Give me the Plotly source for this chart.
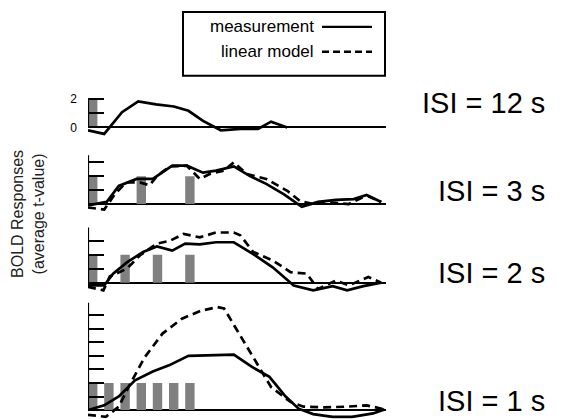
import plotly.graph_objects as go

# ---------------- data ----------------
# ISI = 12 s
t12_meas = [0, 1.0, 2.1, 3.1, 4.2, 5.3, 6.2, 7.1, 8.2, 9.4, 10.5, 11.3, 12.3]
y12_meas = [-0.2, -0.45, 1.05, 1.8, 1.6, 1.45, 1.15, 0.45, -0.2, -0.1, -0.1, 0.4, 0.0]
onsets12 = [0]

# ISI = 3 s
t3_meas = [0, 1.15, 1.9, 3.0, 4.0, 5.2, 6.1, 7.1, 7.9, 9.0, 10.0, 11.0, 12.1, 13.2, 14.2, 15.3, 16.4, 17.2, 18.1]
y3_meas = [-0.1, 0.15, 1.3, 1.8, 1.8, 2.75, 2.75, 2.25, 2.4, 2.7, 2.0, 1.45, 0.7, -0.2, 0.15, 0.3, 0.35, 0.65, 0.15]
t3_model = [0, 1.0, 1.65, 2.35, 3.2, 3.8, 4.25, 5.05, 6.1, 6.9, 7.5, 8.4, 9.0, 9.8, 11.0, 12.3, 13.1, 13.9, 15.1, 16.1, 16.9, 17.3, 18.1]
y3_model = [-0.25, -0.4, 0.7, 1.55, 1.55, 1.35, 2.0, 2.7, 2.75, 1.8, 2.15, 2.4, 3.0, 2.15, 1.8, 0.95, 0.2, 0.0, 0.1, 0.0, 0.45, 0.55, 0.15]
onsets3 = [0, 3, 6]

# ISI = 2 s
t2_meas = [0, 1.0, 1.55, 2.4, 3.4, 4.25, 5.2, 6.0, 6.9, 7.9, 9.0, 10.2, 11.4, 12.7, 13.9, 15.1, 16.0, 17.0, 18.1]
y2_meas = [-0.2, -0.2, 0.65, 1.45, 2.2, 2.6, 2.3, 2.8, 2.75, 2.9, 2.9, 2.05, 1.1, -0.2, -0.55, -0.25, -0.55, -0.25, 0.0]
t2_model = [0, 0.95, 1.35, 2.4, 3.2, 4.25, 5.05, 5.9, 6.9, 7.9, 9.0, 9.4, 10.2, 11.4, 12.5, 13.5, 14.2, 15.3, 16.1, 17.3, 18.1]
y2_model = [-0.3, -0.55, 0.45, 1.0, 1.95, 2.8, 3.0, 3.5, 3.25, 3.6, 3.6, 3.4, 2.2, 1.6, 0.75, 0.65, -0.45, 0.15, -0.2, 0.4, 0.0]
onsets2 = [0, 2, 4, 6]

# ISI = 1 s
t1_meas = [0, 1.0, 1.9, 2.9, 4.0, 5.0, 6.2, 8.0, 9.0, 10.1, 11.2, 12.2, 13.0, 13.9, 15.1, 16.3, 17.6, 18.3]
y1_meas = [0.0, 0.35, 1.0, 2.2, 2.85, 3.3, 4.0, 4.1, 4.1, 3.2, 2.45, 1.0, 0.1, -0.3, -0.5, -0.5, -0.25, 0.05]
t1_model = [0, 1.1, 1.9, 2.5, 3.5, 4.6, 5.8, 7.0, 8.0, 8.4, 9.2, 10.3, 11.3, 12.5, 13.3, 14.6, 16.0, 17.2, 18.3]
y1_model = [-0.35, -0.5, 0.25, 1.7, 3.9, 5.65, 6.75, 7.35, 7.6, 7.5, 5.9, 3.7, 1.7, 0.6, 0.25, 0.2, 0.25, 0.35, 0.05]
onsets1 = [0, 1, 2, 3, 4, 5, 6]

stim_height = 2.0
stim_width = 0.58

labels = ["ISI = 12 s", "ISI = 3 s", "ISI = 2 s", "ISI = 1 s"]
legend_names = ["measurement", "linear model"]
y_title = "BOLD Responses<br>(average t-value)"

# ---------------- layout geometry ----------------
W, H = 571, 419
FONT = "Liberation Sans, Arial, Helvetica, sans-serif"
x0_px, px_per_s, x_end_px = 88, 16.2, 386
xr = [0, (x_end_px - x0_px) / px_per_s]

panels = [
    dict(base=126, s=14.5, ymin=-0.7, ymax=2.3, top=2.0, ticks=[0, 1, 2]),
    dict(base=203, s=14.0, ymin=-0.7, ymax=3.6, top=3.5, ticks=[0, 1, 2, 3]),
    dict(base=282, s=14.0, ymin=-0.8, ymax=4.0, top=3.95, ticks=[0, 1, 2, 3]),
    dict(base=410, s=13.6, ymin=-0.65, ymax=7.95, top=8.0, ticks=[0, 1, 2, 3, 4, 5, 6, 7]),
]
label_y_px = [101, 190, 272, 401]

series = [
    (t12_meas, y12_meas, None, None, onsets12),
    (t3_meas, y3_meas, t3_model, y3_model, onsets3),
    (t2_meas, y2_meas, t2_model, y2_model, onsets2),
    (t1_meas, y1_meas, t1_model, y1_model, onsets1),
]

fig = go.Figure()
shapes = []
annotations = []
layout = {}
xdom = [x0_px / W, x_end_px / W]

for i, (p, (tm, ym, tl, yl, ons)) in enumerate(zip(panels, series)):
    n = "" if i == 0 else str(i + 1)
    xa, ya = "x" + n, "y" + n
    bottom = 1 - (p["base"] - p["ymin"] * p["s"]) / H
    top = 1 - (p["base"] - p["ymax"] * p["s"]) / H
    fig.add_trace(go.Bar(x=ons, y=[stim_height] * len(ons), width=stim_width, offset=0,
                         marker=dict(color="#808080", line=dict(width=0)),
                         xaxis=xa, yaxis=ya, showlegend=False, hoverinfo="skip"))
    if tl is not None:
        fig.add_trace(go.Scatter(x=tl, y=yl, mode="lines",
                                 line=dict(color="black", width=2.7, dash="8px,5px"),
                                 xaxis=xa, yaxis=ya, showlegend=False))
    fig.add_trace(go.Scatter(x=tm, y=ym, mode="lines",
                             line=dict(color="black", width=2.7),
                             xaxis=xa, yaxis=ya, showlegend=False))
    layout["xaxis" + n] = dict(domain=xdom, range=xr, visible=False, anchor=ya, fixedrange=True)
    layout["yaxis" + n] = dict(
        domain=[bottom, top], range=[p["ymin"], p["ymax"]], anchor=xa,
        showgrid=False, showline=False, zeroline=True, zerolinecolor="black", zerolinewidth=2.2,
        ticks="inside", ticklen=16, tickwidth=2, tickcolor="black",
        tickvals=p["ticks"],
        ticktext=(["0", "", "2"] if i == 0 else [""] * len(p["ticks"])),
        showticklabels=(i == 0), ticklabelstandoff=10,
        tickfont=dict(family=FONT, size=12, color="black"), fixedrange=True)
    shapes.append(dict(type="line", xref=xa, yref=ya, x0=0, x1=0, y0=0, y1=min(p["top"], p["ymax"]),
                       line=dict(color="black", width=2.2)))
    annotations.append(dict(text=labels[i], xref="paper", yref="paper",
                            x=547 / W, y=1 - label_y_px[i] / H,
                            xanchor="right", yanchor="middle", showarrow=False,
                            font=dict(family=FONT, size=29, color="black")))

# legend box (drawn in paper coordinates)
bx0, bx1, by0, by1 = 183, 385, 10, 74
shapes.append(dict(type="rect", xref="paper", yref="paper",
                   x0=bx0 / W, x1=bx1 / W, y0=1 - by1 / H, y1=1 - by0 / H,
                   line=dict(color="black", width=2), fillcolor="white"))
for j, (name, dash, ypx) in enumerate(zip(legend_names, ["solid", "7px,4px"], [25, 50])):
    annotations.append(dict(text=name, xref="paper", yref="paper", x=316 / W, y=1 - ypx / H,
                            xanchor="right", yanchor="middle", showarrow=False,
                            font=dict(family=FONT, size=17, color="black")))
    shapes.append(dict(type="line", xref="paper", yref="paper", x0=322 / W, x1=372 / W,
                       y0=1 - ypx / H, y1=1 - ypx / H, line=dict(color="black", width=2.4, dash=dash)))

annotations.append(dict(text=y_title, xref="paper", yref="paper", x=28 / W, y=1 - 213 / H,
                        textangle=-90, xanchor="center", yanchor="middle", showarrow=False,
                        font=dict(family=FONT, size=16, color="#222222")))

fig.update_layout(width=W, height=H, margin=dict(l=0, r=0, t=0, b=0),
                  paper_bgcolor="white", plot_bgcolor="rgba(0,0,0,0)",
                  shapes=shapes, annotations=annotations, showlegend=False,
                  barmode="overlay", **layout)
fig.write_html("out.html", config={"displayModeBar": False},
               post_script="document.body.style.margin='0px';document.body.style.overflow='hidden';")
